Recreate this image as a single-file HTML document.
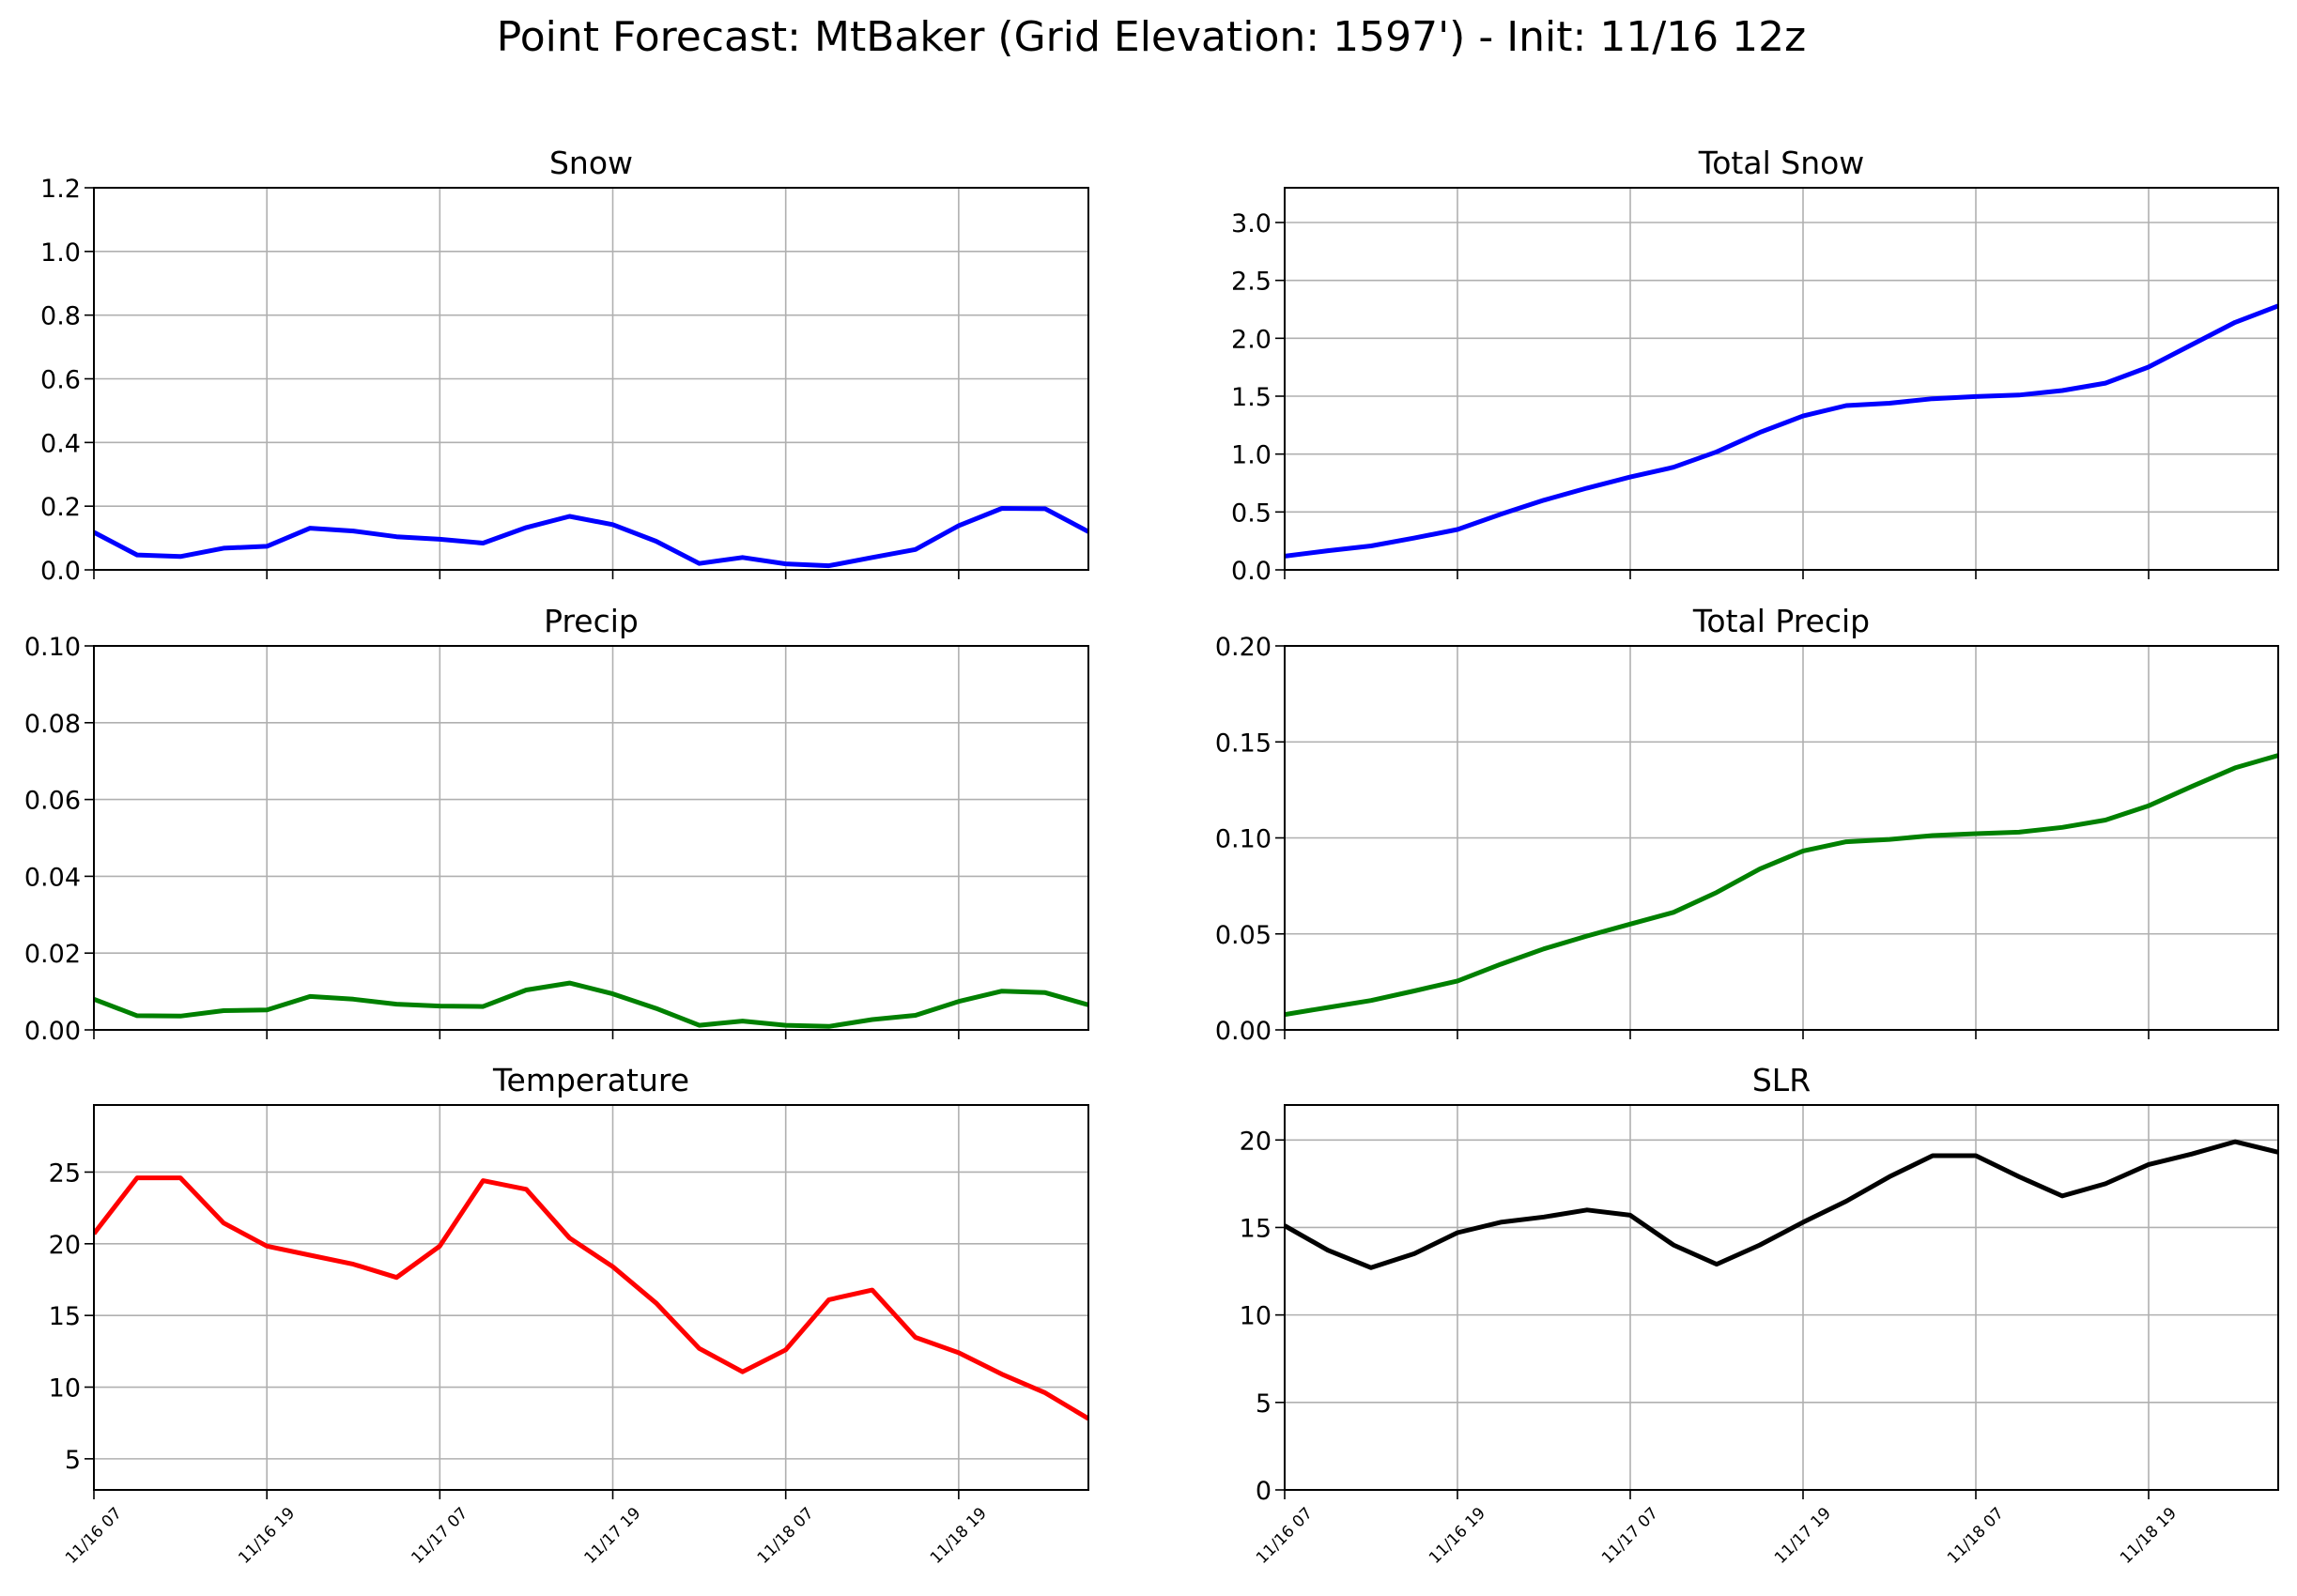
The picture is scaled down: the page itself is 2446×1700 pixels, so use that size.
<!DOCTYPE html>
<html><head><meta charset="utf-8"><style>
html,body{margin:0;padding:0;background:#fff;}
svg{display:block;font-family:"DejaVu Sans","Liberation Sans",sans-serif;}
</style></head><body>
<svg id="fig" width="2446" height="1700" viewBox="0 0 2446 1700" xmlns="http://www.w3.org/2000/svg">
<rect width="2446" height="1700" fill="#fff"/>
<text x="1226" y="54" font-size="44" text-anchor="middle" fill="#000">Point Forecast: MtBaker (Grid Elevation: 1597') - Init: 11/16 12z</text>
</svg>
<script>
const xTickLabels = ["11/16 07","11/16 19","11/17 07","11/17 19","11/18 07","11/18 19"];
const xTickIdx = [0,4,8,12,16,20];
const snow = [0.118,0.047,0.042,0.068,0.074,0.131,0.122,0.104,0.096,0.084,0.133,0.168,0.142,0.090,0.020,0.039,0.019,0.013,0.039,0.064,0.139,0.193,0.192,0.120];
const totalSnow = [0.118,0.165,0.207,0.275,0.349,0.480,0.602,0.706,0.802,0.886,1.019,1.187,1.329,1.419,1.439,1.478,1.497,1.510,1.549,1.613,1.752,1.945,2.137,2.280];
const precip = [0.0080,0.0037,0.0036,0.0050,0.0052,0.0087,0.0080,0.0067,0.0062,0.0061,0.0104,0.0122,0.0094,0.0056,0.0012,0.0023,0.0012,0.0009,0.0027,0.0038,0.0074,0.0101,0.0097,0.0065];
const totalPrecip = [0.0080,0.0117,0.0153,0.0203,0.0255,0.0342,0.0422,0.0489,0.0551,0.0612,0.0716,0.0838,0.0932,0.0980,0.0992,0.1012,0.1022,0.1030,0.1055,0.1093,0.1167,0.1268,0.1365,0.1430];
const temperature = [20.7,24.6,24.6,21.45,19.84,19.2,18.57,17.65,19.84,24.4,23.8,20.4,18.4,15.87,12.7,11.07,12.6,16.1,16.77,13.47,12.4,10.9,9.6,7.8];
const slr = [15.1,13.7,12.7,13.5,14.7,15.3,15.6,16.0,15.7,14.0,12.9,14.0,15.3,16.5,17.9,19.1,19.1,17.9,16.8,17.5,18.6,19.2,19.9,19.3];
const snowTicks = ["0.0","0.2","0.4","0.6","0.8","1.0","1.2"];
const totalSnowTicks = ["0.0","0.5","1.0","1.5","2.0","2.5","3.0"];
const precipTicks = ["0.00","0.02","0.04","0.06","0.08","0.10"];
const totalPrecipTicks = ["0.00","0.05","0.10","0.15","0.20"];
const tempTicks = ["5","10","15","20","25"];
const slrTicks = ["0","5","10","15","20"];

const NS="http://www.w3.org/2000/svg";
const svg=document.getElementById('fig');
function mk(tag,attrs,parent){const e=document.createElementNS(NS,tag);for(const k in attrs)e.setAttribute(k,attrs[k]);(parent||svg).appendChild(e);return e;}

const panels=[
 {name:"snow",title:"Snow",data:snow,ticks:snowTicks,ymin:0,ymax:1.2,color:"#0000ff",x0:100,x1:1159,y0:200,y1:607,labels:false},
 {name:"total-snow",title:"Total Snow",data:totalSnow,ticks:totalSnowTicks,ymin:0,ymax:3.3,color:"#0000ff",x0:1368,x1:2426,y0:200,y1:607,labels:false},
 {name:"precip",title:"Precip",data:precip,ticks:precipTicks,ymin:0,ymax:0.1,color:"#008000",x0:100,x1:1159,y0:688,y1:1097,labels:false},
 {name:"total-precip",title:"Total Precip",data:totalPrecip,ticks:totalPrecipTicks,ymin:0,ymax:0.2,color:"#008000",x0:1368,x1:2426,y0:688,y1:1097,labels:false},
 {name:"temperature",title:"Temperature",data:temperature,ticks:tempTicks,ymin:2.83,ymax:29.68,color:"#ff0000",x0:100,x1:1159,y0:1177,y1:1587,labels:true},
 {name:"slr",title:"SLR",data:slr,ticks:slrTicks,ymin:0,ymax:22.0,color:"#000000",x0:1368,x1:2426,y0:1177,y1:1587,labels:true}
];

panels.forEach(p=>{
  const n=p.data.length;
  const xs=i=>p.x0+(p.x1-p.x0)*i/(n-1);
  const ys=v=>p.y1-(p.y1-p.y0)*(v-p.ymin)/(p.ymax-p.ymin);
  const g=mk('g',{});
  
  
  const t=mk('text',{x:(p.x0+p.x1)/2,y:p.y0-15,'font-size':'33','text-anchor':'middle',fill:'#000'},g);
  t.textContent=p.title;
  
  
  xTickIdx.forEach((ix,k)=>{
    const x=xs(ix);
    const gl=mk('line',{x1:x,x2:x,y1:p.y0,y2:p.y1,stroke:'#b0b0b0','stroke-width':'1.6'},g);
    
    
    mk('line',{x1:x,x2:x,y1:p.y1,y2:p.y1+10,stroke:'#000','stroke-width':'1.6'},g);
    if(p.labels){
      const lx=x, ly=p.y1+49;
      const lt=mk('text',{x:lx,y:ly,'font-size':'17','text-anchor':'middle','dominant-baseline':'central',fill:'#000',transform:`rotate(-45 ${lx} ${ly})`},g);
      lt.textContent=xTickLabels[k];
      
      
    }
  });
  p.ticks.forEach(tl=>{
    const v=parseFloat(tl);
    const y=ys(v);
    const gl=mk('line',{x1:p.x0,x2:p.x1,y1:y,y2:y,stroke:'#b0b0b0','stroke-width':'1.6'},g);
    
    
    mk('line',{x1:p.x0-10,x2:p.x0,y1:y,y2:y,stroke:'#000','stroke-width':'1.6'},g);
    const yt=mk('text',{x:p.x0-14,y:y+10,'font-size':'27','text-anchor':'end',fill:'#000'},g);
    yt.textContent=tl;
    
    
  });
  const pts=p.data.map((v,i)=>xs(i).toFixed(1)+','+ys(v).toFixed(1)).join(' ');
  const cp=mk('clipPath',{id:'clip-'+p.name},g);
  mk('rect',{x:p.x0,y:p.y0,width:p.x1-p.x0,height:p.y1-p.y0},cp);
  const pl=mk('polyline',{points:pts,fill:'none',stroke:p.color,'stroke-width':'5','stroke-linejoin':'round','clip-path':`url(#clip-${p.name})`},g);
  
  
  const fr=mk('rect',{x:p.x0,y:p.y0,width:p.x1-p.x0,height:p.y1-p.y0,fill:'none',stroke:'#000','stroke-width':'2'},g);
  
  
});
</script>
</body></html>
